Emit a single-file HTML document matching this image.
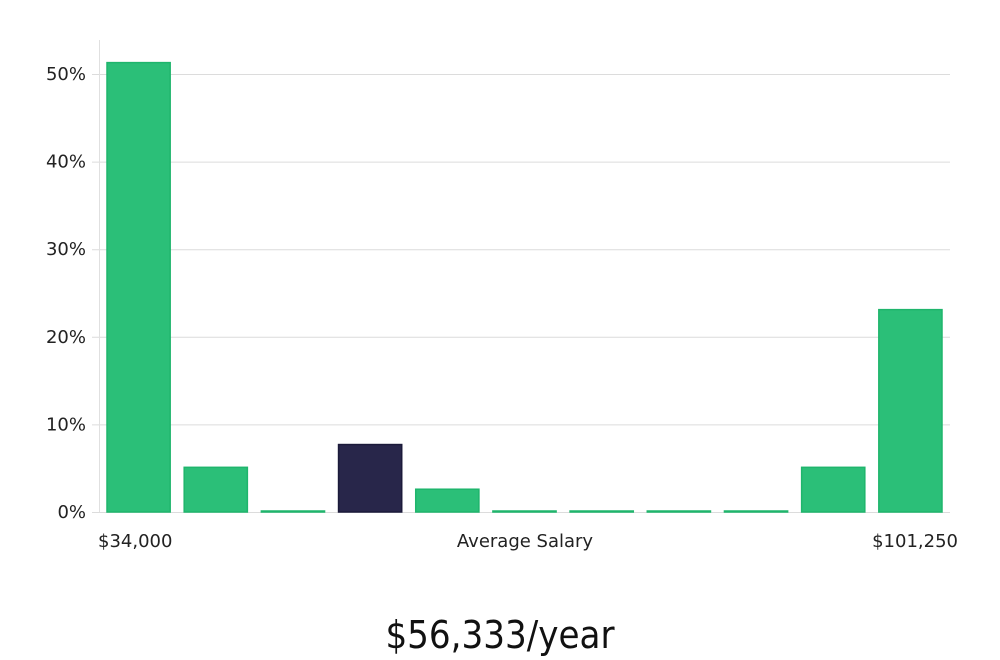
<!DOCTYPE html>
<html><head><meta charset="utf-8">
<style>
html,body{margin:0;padding:0;background:#fff;}
svg{display:block;font-family:"DejaVu Sans","Liberation Sans",sans-serif;}
</style></head>
<body>
<svg id="chart" width="1000" height="660" viewBox="0 0 1000 660" xmlns="http://www.w3.org/2000/svg">
<g id="grid"></g>
<line x1="99.5" y1="40" x2="99.5" y2="512" stroke="#e0e0e0"/>
<g id="yticks"></g>
<g id="bars"></g>
<text x="98" y="547" font-size="18" fill="#222">$34,000</text>
<text x="525" y="547" font-size="18" fill="#222" text-anchor="middle">Average Salary</text>
<text x="958" y="547" font-size="18" fill="#222" text-anchor="end">$101,250</text>
<text x="500" y="648" font-size="38" fill="#111" text-anchor="middle" font-family="'DejaVu Sans Condensed','Liberation Sans Narrow',sans-serif" font-weight="300">$56,333/year</text>
</svg>
<script>
const values = [51.3, 5.1, 0, 7.7, 2.6, 0, 0, 0, 0, 5.1, 23.1];
const highlightIndex = 3;
const yTicks = [0, 10, 20, 30, 40, 50];
const tickLabels = ["0%", "10%", "20%", "30%", "40%", "50%"];

const NS = "http://www.w3.org/2000/svg";
const y0 = 512, pxPer = 8.76;
const y = v => y0 - v * pxPer;
const left = 101, right = 950;
const step = (right - left) / values.length;
const x = i => left + i * step + 6;
const bw = step - 14;

const grid = document.getElementById('grid');
const yt = document.getElementById('yticks');
yTicks.forEach((t, i) => {
  const l = document.createElementNS(NS, 'line');
  l.setAttribute('x1', 92); l.setAttribute('x2', 950);
  l.setAttribute('y1', y(t) + 0.5); l.setAttribute('y2', y(t) + 0.5);
  l.setAttribute('stroke', '#dcdcdc');
  
  
  grid.appendChild(l);
  const tx = document.createElementNS(NS, 'text');
  tx.setAttribute('x', 86); tx.setAttribute('y', y(t) + 6);
  tx.setAttribute('text-anchor', 'end');
  tx.setAttribute('font-size', '18'); tx.setAttribute('fill', '#222');
  tx.textContent = tickLabels[i];
  
  
  yt.appendChild(tx);
});

const bars = document.getElementById('bars');
values.forEach((v, i) => {
  const r = document.createElementNS(NS, 'rect');
  const h = Math.max(v * pxPer, 1);
  r.setAttribute('x', x(i)); r.setAttribute('y', y0 - h);
  r.setAttribute('width', bw); r.setAttribute('height', h);
  const hl = i === highlightIndex;
  r.setAttribute('fill', hl ? '#28264a' : '#2bbf78');
  r.setAttribute('stroke', hl ? '#1b1a3a' : '#1fb56c');
  r.setAttribute('stroke-width', '1.5');
  
  
  bars.appendChild(r);
});
</script>
</body></html>
